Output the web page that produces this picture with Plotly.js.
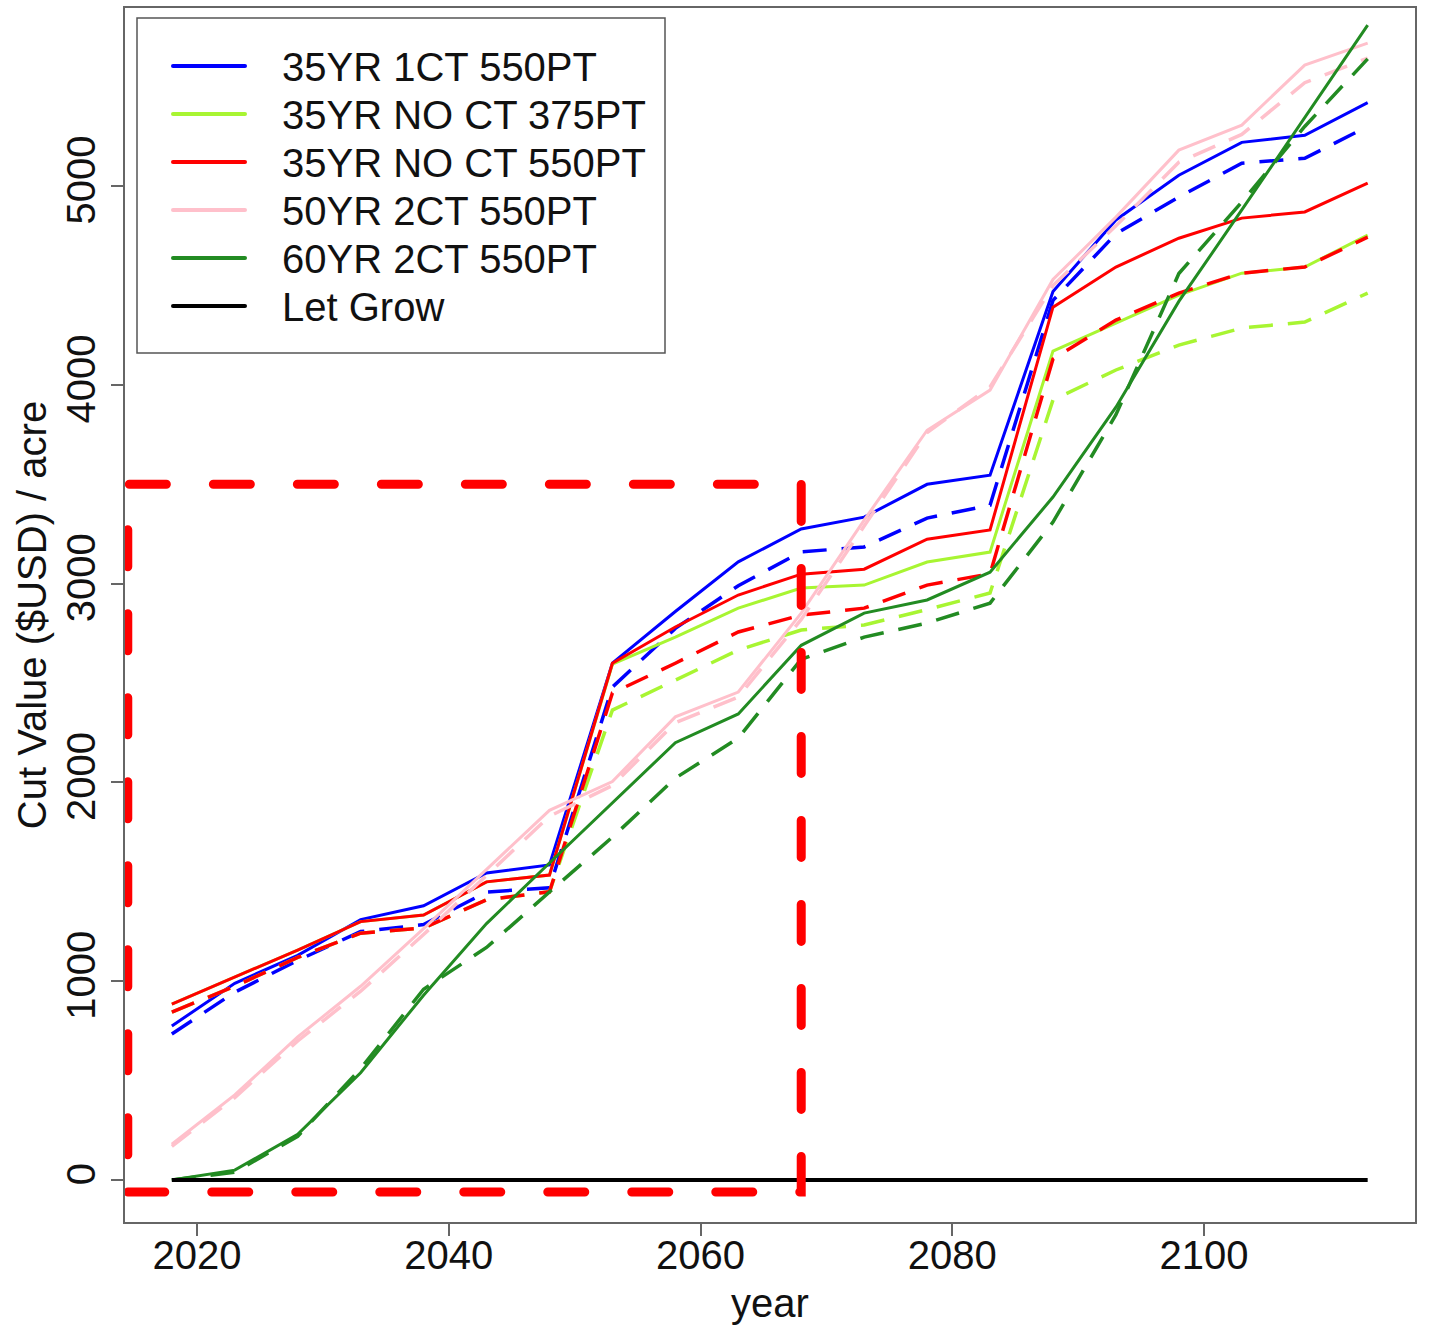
<!DOCTYPE html>
<html>
<head>
<meta charset="utf-8">
<script src="https://cdn.plot.ly/plotly-3.0.1.min.js"></script>
<style>
  html, body { margin: 0; padding: 0; background: #fff; }
  #chart { width: 1432px; height: 1325px; }
  #chart .shapelayer path { stroke-linecap: round; }
</style>
</head>
<body>
<div id="chart"></div>
<script>
// Harvest years (5-year steps)
const years = [2018, 2023, 2028, 2033, 2038, 2043, 2048, 2053, 2058, 2063,
               2068, 2073, 2078, 2083, 2088, 2093, 2098, 2103, 2108, 2113];

// Scenario names shown in the legend
const seriesNames = ["35YR 1CT 550PT", "35YR NO CT 375PT", "35YR NO CT 550PT",
                     "50YR 2CT 550PT", "60YR 2CT 550PT", "Let Grow"];

// Cut value ($USD / acre), solid = first run, dashed = second run
const yr35ct1_550 = [775, 990, 1130, 1310, 1380, 1545, 1585, 2600, 2860, 3110,
                     3275, 3335, 3500, 3546, 4470, 4830, 5055, 5220, 5256, 5420];
const yr35ct1_550b = [735, 945, 1105, 1250, 1285, 1449, 1470, 2480, 2775, 2990,
                      3160, 3185, 3330, 3395, 4425, 4760, 4945, 5115, 5140, 5300];

const yr35noct_375 = [885, 1020, 1157, 1300, 1333, 1500, 1534, 2595, 2731, 2877,
                      2978, 2993, 3109, 3159, 4170, 4311, 4452, 4562, 4593, 4753];
const yr35noct_375b = [845, 975, 1120, 1242, 1268, 1410, 1450, 2364, 2515, 2666,
                       2767, 2792, 2870, 2953, 3924, 4075, 4200, 4286, 4316, 4462];

const yr35noct_550 = [885, 1020, 1157, 1300, 1333, 1500, 1534, 2600, 2782, 2943,
                      3048, 3073, 3224, 3270, 4391, 4593, 4738, 4839, 4870, 5015];
const yr35noct_550b = [845, 975, 1120, 1242, 1268, 1410, 1450, 2450, 2600, 2757,
                       2842, 2877, 2993, 3050, 4130, 4326, 4462, 4562, 4593, 4743];

const yr50ct2_550 = [180, 428, 720, 975, 1265, 1560, 1860, 2005, 2330, 2455,
                     2852, 3320, 3772, 3974, 4530, 4844, 5181, 5307, 5609, 5719];
const yr50ct2_550b = [170, 415, 700, 950, 1235, 1530, 1830, 1985, 2300, 2430,
                      2820, 3290, 3760, 3990, 4500, 4800, 5120, 5260, 5520, 5644];

const yr60ct2_550 = [0, 50, 230, 540, 930, 1290, 1595, 1900, 2200, 2345,
                     2690, 2852, 2918, 3058, 3436, 3888, 4420, 4880, 5345, 5810];
const yr60ct2_550b = [0, 40, 220, 560, 960, 1170, 1449, 1725, 2022, 2223,
                      2620, 2731, 2802, 2902, 3310, 3850, 4560, 4920, 5300, 5640];

const letGrow = [0, 0, 0, 0, 0, 0, 0, 0, 0, 0,
                 0, 0, 0, 0, 0, 0, 0, 0, 0, 0];

// Axis ticks
const xTicks = [2020, 2040, 2060, 2080, 2100];
const yTicks = [0, 1000, 2000, 3000, 4000, 5000];

// Highlighted window (years, value)
const boxYears = [2014.5, 2068];
const boxValues = [-60, 3500];

// ---- styling ----
const colors = ["#0000ff", "#a8f532", "#ff0000", "#ffc0cb", "#228b22", "#000000"];
const solidSets = [yr35ct1_550, yr35noct_375, yr35noct_550, yr50ct2_550, yr60ct2_550];
const dashedSets = [yr35ct1_550b, yr35noct_375b, yr35noct_550b, yr50ct2_550b, yr60ct2_550b];
const FONT = "Liberation Sans, Arial, Helvetica, sans-serif";
const TEXT = "#111111";
const AXIS = "#666666";

const traces = [];
solidSets.forEach((vals, i) => {
  traces.push({
    x: years, y: vals, type: "scatter", mode: "lines", name: seriesNames[i],
    line: { color: colors[i], width: 3 }, showlegend: false
  });
  traces.push({
    x: years, y: dashedSets[i], type: "scatter", mode: "lines", name: seriesNames[i],
    line: { color: colors[i], width: 3.5, dash: "24px,15px" }, showlegend: false
  });
});
traces.push({
  x: years, y: letGrow, type: "scatter", mode: "lines", name: seriesNames[5],
  line: { color: colors[5], width: 4 }, showlegend: false
});

// Plot-area geometry in page pixels
const plotBox = { left: 125, right: 1415, top: 8, bottom: 1222 };
const W = 1432, H = 1325;
const px2x = px => (px - plotBox.left) / (plotBox.right - plotBox.left);
const px2y = py => (plotBox.bottom - py) / (plotBox.bottom - plotBox.top);

// Legend box, drawn inside the plot area
const legendBox = { left: 137, right: 665, top: 18, bottom: 353 };
const legendRow0 = 66, legendRowStep = 48;
const sampleX = [173, 245], textX = 280;

const shapes = [];
const annotations = [];

shapes.push({
  type: "rect", xref: "paper", yref: "paper",
  x0: px2x(legendBox.left), x1: px2x(legendBox.right),
  y0: px2y(legendBox.bottom), y1: px2y(legendBox.top),
  line: { color: "#555555", width: 1.5 }, fillcolor: "#ffffff", layer: "above"
});
seriesNames.forEach((name, i) => {
  const py = legendRow0 + i * legendRowStep;
  shapes.push({
    type: "line", xref: "paper", yref: "paper",
    x0: px2x(sampleX[0]), x1: px2x(sampleX[1]), y0: px2y(py), y1: px2y(py),
    line: { color: colors[i], width: 4 }, layer: "above"
  });
  annotations.push({
    xref: "paper", yref: "paper", x: px2x(textX), y: px2y(py + 1),
    xanchor: "left", yanchor: "middle", showarrow: false, text: name,
    font: { family: FONT, size: 40, color: TEXT }
  });
});

// Dashed red highlight window
shapes.push({
  type: "rect", xref: "x", yref: "y",
  x0: boxYears[0], x1: boxYears[1], y0: boxValues[0], y1: boxValues[1],
  line: { color: "#ff0000", width: 9, dash: "37px,47px" }, layer: "above"
});

const layout = {
  width: W, height: H,
  paper_bgcolor: "#ffffff", plot_bgcolor: "#ffffff",
  margin: { l: plotBox.left, r: W - plotBox.right, t: plotBox.top, b: H - plotBox.bottom, pad: 0 },
  font: { family: FONT, size: 40, color: TEXT },
  showlegend: false,
  xaxis: {
    range: [2014.28, 2116.76], tickvals: xTicks, ticktext: xTicks.map(String),
    showgrid: false, zeroline: false, showline: true, mirror: true,
    linecolor: AXIS, linewidth: 2, ticks: "outside", ticklen: 12, tickwidth: 2, tickcolor: AXIS,
    ticklabelstandoff: -15,
    tickfont: { family: FONT, size: 40, color: TEXT },
    title: { text: "year", font: { family: FONT, size: 40, color: TEXT }, standoff: 22 }
  },
  yaxis: {
    range: [-211, 5896], tickvals: yTicks, ticktext: yTicks.map(String),
    showgrid: false, zeroline: false, showline: true, mirror: true,
    linecolor: AXIS, linewidth: 2, ticks: "outside", ticklen: 12, tickwidth: 2, tickcolor: AXIS,
    tickangle: -90,
    tickfont: { family: FONT, size: 40, color: TEXT },
    title: { text: "Cut Value ($USD) / acre", font: { family: FONT, size: 40, color: TEXT }, standoff: 0 }
  },
  shapes: shapes,
  annotations: annotations
};

Plotly.newPlot("chart", traces, layout, { displayModeBar: false, staticPlot: true });
</script>
</body>
</html>
